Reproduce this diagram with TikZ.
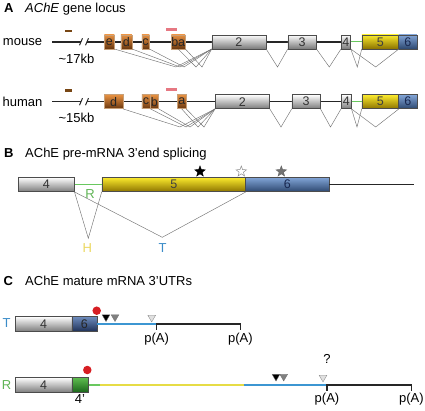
\documentclass[tikz,border=0pt]{standalone}
\usepackage{fontspec}
\setmainfont{Liberation Sans}
\usetikzlibrary{shapes.geometric}
\definecolor{orTop}{RGB}{232,145,65}
\definecolor{orBot}{RGB}{105,55,15}
\definecolor{orBrd}{RGB}{200,160,120}
\definecolor{yeTop}{RGB}{252,235,45}
\definecolor{yeBot}{RGB}{140,115,0}
\definecolor{blTop}{RGB}{130,165,215}
\definecolor{blBot}{RGB}{45,72,112}
\definecolor{dbTop}{RGB}{110,140,190}
\definecolor{dbBot}{RGB}{30,48,85}
\definecolor{grTop}{RGB}{95,190,80}
\definecolor{grBot}{RGB}{25,100,25}
\definecolor{navy}{RGB}{25,40,80}
\definecolor{lnGreen}{RGB}{105,200,95}
\definecolor{lnYellow}{RGB}{230,220,70}
\definecolor{lnBlue}{RGB}{60,150,210}
\definecolor{txBlue}{RGB}{60,140,200}
\definecolor{txGreen}{RGB}{95,180,85}
\definecolor{txYellow}{RGB}{235,215,95}
\definecolor{brMark}{RGB}{120,70,20}
\definecolor{pkMark}{RGB}{230,120,130}
\definecolor{redDot}{RGB}{215,30,35}
\begin{document}
\begin{tikzpicture}[x=1pt,y=-1pt,
  lbl/.style={font=\fontsize{13}{15}\selectfont, inner sep=0pt},
  ttl/.style={font=\fontsize{13}{15}\selectfont, inner sep=0pt, anchor=base west},
  ex/.style={draw=black!70, line width=0.5pt, minimum height=14pt, inner sep=0pt, anchor=west, font=\fontsize{12.5}{13}\selectfont},
  gex/.style={ex, top color=white, bottom color=black!52, text=black!80},
  oex/.style={ex, draw=orBrd, top color=orTop, bottom color=orBot, text=black!85},
  yex/.style={ex, top color=yeTop, bottom color=yeBot, text=black!75},
  bex/.style={ex, top color=blTop, bottom color=blBot, text=navy},
  dbex/.style={ex, top color=dbTop, bottom color=dbBot, text=black!85},
  gnex/.style={ex, top color=grTop, bottom color=grBot},
  spl/.style={draw=black!55, line width=0.45pt},
  mainln/.style={draw=black!85, line width=1.5pt},
  blk/.style={draw=black!85, line width=1.1pt},
  tri/.style={regular polygon, regular polygon sides=3, shape border rotate=180, minimum size=9pt, inner sep=0pt, draw=black!60, line width=0.3pt},
  strs/.style={star, star points=5, star point ratio=2.4, minimum size=11pt, inner sep=0pt, line width=0.5pt},
  dot/.style={circle, fill=redDot, minimum size=8.5pt, inner sep=0pt},
]
\useasboundingbox (0,0) rectangle (425,411);

% ---------------- A ----------------
\node[ttl] (Aletter) at (4,12.7) {\textbf{A}};
\node[ttl] (Atitle) at (25,12.7) {\textit{AChE} gene locus};

% mouse
\node[lbl] (mouse) at (22.5,42) {mouse};
\node[lbl] (m17) at (76.5,58.5) {\textasciitilde17kb};
\coordinate (mL) at (52,41.8);
\coordinate (mB1) at (81,41.8);
\coordinate (mB2) at (87,41.8);
\draw[brMark, line width=2.5pt] (65,31) -- (71.7,31);
\draw[pkMark, line width=3pt] (166,30) -- (177,30);
\draw[mainln] (mL) -- (mB1);
\draw[mainln, line width=1pt] ([xshift=-1.5pt,yshift=-3.5pt]mB1) -- ([xshift=1.5pt,yshift=3.5pt]mB1);
\draw[mainln, line width=1pt] ([xshift=-1.5pt,yshift=-3.5pt]mB2) -- ([xshift=1.5pt,yshift=3.5pt]mB2);
\draw[mainln] (mB2) -- (341,41.8);
\node[oex, minimum width=10pt] (me) at (104,41.8) {e};
\node[oex, minimum width=11pt] (md) at (120.7,41.8) {d};
\node[oex, minimum width=7.3pt] (mc) at (141.7,41.8) {c};
\node[oex, minimum width=13.3pt] (mba) at (171,41.8) {ba};
\node[gex, minimum width=54pt] (m2) at (211.7,41.8) {2};
\node[gex, minimum width=28.3pt] (m3) at (287.7,41.8) {3};
\node[gex, minimum width=9.3pt] (m4) at (341,41.8) {4};
\node[yex, minimum width=36.6pt] (m5) at (361.7,41.8) {5};
\node[bex, minimum width=18.4pt] (m6) at (398.3,41.8) {6};
\draw[lnGreen, line width=1.2pt] (m4.east) -- (m5.west);
\draw[spl] (me.south east) -- (176,67) -- (m2.south west);
\draw[spl] (md.south east) -- (180,67) -- (m2.south west);
\draw[spl] (mc.south east) -- (184,67) -- (m2.south west);
\draw[spl] (mba.south) -- (196,67) -- (m2.south west);
\draw[spl] (mba.south east) -- (202,67) -- (m2.south west);
\draw[spl] (m2.south east) -- (277.5,67) -- (m3.south west);
\draw[spl] (m3.south east) -- (329.3,67) -- (m4.south west);
\draw[spl] (m4.south east) -- (357.3,67) -- (m5.south west);
\draw[spl] (m4.south east) -- (375.7,67) -- (m5.south east);

% human
\node[lbl] (human) at (22.5,101.5) {human};
\node[lbl] (h15) at (76.5,118) {\textasciitilde15kb};
\coordinate (hL) at (52,101.7);
\coordinate (hB1) at (81,101.7);
\coordinate (hB2) at (87,101.7);
\draw[brMark, line width=2.5pt] (65,90.7) -- (71.7,90.7);
\draw[pkMark, line width=3pt] (166,90) -- (177,90);
\draw[mainln] (hL) -- (hB1);
\draw[mainln, line width=1pt] ([xshift=-1.5pt,yshift=-3.5pt]hB1) -- ([xshift=1.5pt,yshift=3.5pt]hB1);
\draw[mainln, line width=1pt] ([xshift=-1.5pt,yshift=-3.5pt]hB2) -- ([xshift=1.5pt,yshift=3.5pt]hB2);
\draw[mainln] (hB2) -- (341,101.7);
\node[oex, minimum width=18.7pt] (hd) at (104,101.7) {d};
\node[oex, minimum width=8.3pt] (hc) at (141.7,101.7) {c};
\node[oex, minimum width=8.3pt] (hb) at (150,101.7) {b};
\node[oex, minimum width=8.4pt] (ha) at (177.3,101.7) {a};
\node[gex, minimum width=54.3pt] (h2) at (215,101.7) {2};
\node[gex, minimum width=28.3pt] (h3) at (291.7,101.7) {3};
\node[gex, minimum width=10pt] (h4) at (341,101.7) {4};
\node[yex, minimum width=36.6pt] (h5) at (361.7,101.7) {5};
\node[bex, minimum width=18.4pt] (h6) at (398.3,101.7) {6};
\draw[lnGreen, line width=1.2pt] (h4.east) -- (h5.west);
\draw[spl] (hd.south east) -- (180,127) -- (h2.south west);
\draw[spl] (hc.south east) -- (186,127) -- (h2.south west);
\draw[spl] (hb.south east) -- (190,127) -- (h2.south west);
\draw[spl] (ha.south) -- (198,127) -- (h2.south west);
\draw[spl] (ha.south east) -- (204,127) -- (h2.south west);
\draw[spl] (h2.south east) -- (281,127) -- (h3.south west);
\draw[spl] (h3.south east) -- (330.5,127) -- (h4.south west);
\draw[spl] (h4.south east) -- (357,127) -- (h5.south west);
\draw[spl] (h4.south east) -- (375.7,127) -- (h5.south east);

% ---------------- B ----------------
\node[ttl] (Bletter) at (4,157.3) {\textbf{B}};
\node[ttl] (Btitle) at (25,157.3) {AChE pre-mRNA 3’end splicing};
\node[gex, minimum width=55.7pt, minimum height=14.4pt] (b4) at (18.3,184.5) {4};
\node[yex, minimum width=143.6pt, minimum height=14.4pt] (b5) at (101.7,184.5) {5};
\node[bex, minimum width=83.4pt, minimum height=14.4pt] (b6) at (245.3,184.5) {6};
\coordinate (bEnd) at (413.7,184.5);
\draw[blk] (b6.east) -- (bEnd);
\draw[lnGreen, line width=1.2pt] (b4.east) -- (b5.west);
\coordinate (hApex) at (88.3,238.3);
\coordinate (tApex) at (162.3,237.3);
\draw[spl] (b4.south east) -- (hApex) -- (b5.south west);
\draw[spl] (b4.south east) -- (tApex) -- (b5.south east);
\node[lbl, text=txGreen] (Rb) at (90,194) {R};
\node[lbl, text=txYellow] (Hb) at (87.3,248.3) {H};
\node[lbl, text=txBlue] (Tb) at (162.7,248.3) {T};
\node[strs, fill=black, draw=black] (s1) at (200,171.5) {};
\node[strs, fill=white, draw=black!45] (s2) at (241.3,171.5) {};
\node[strs, fill=black!55, draw=black!60] (s3) at (281.3,171.5) {};

% ---------------- C ----------------
\node[ttl] (Cletter) at (3.5,285.7) {\textbf{C}};
\node[ttl] (Ctitle) at (25,285.7) {AChE mature mRNA 3’UTRs};

% T transcript
\node[lbl, text=txBlue] (Tc) at (6.5,323.5) {T};
\node[gex, minimum width=56.7pt, minimum height=15pt] (cT4) at (15,324) {4};
\node[dbex, minimum width=25pt, minimum height=15pt] (cT6) at (71.7,324) {6};
\coordinate (tpA1) at (156.7,324);
\coordinate (tpA2) at (240.3,324);
\draw[lnBlue, line width=1.1pt] (cT6.east) -- (tpA1);
\draw[blk] ([yshift=-5.5pt]tpA1) -- (tpA1) -- (tpA2) -- ([yshift=-5.5pt]tpA2);
\node[lbl] (tpAl1) at (156.7,339) {p(A)};
\node[lbl] (tpAl2) at (240.3,339) {p(A)};
\node[dot] (rT) at (96.7,310.7) {};
\node[tri, fill=black] (tT1) at (106,317) {};
\node[tri, fill=black!50] (tT2) at (115,317) {};
\node[tri, fill=black!12, draw=black!50] (tT3) at (151.7,317.5) {};

% R transcript
\node[lbl, text=txGreen] (Rc) at (6.5,385) {R};
\node[gex, minimum width=56.7pt, minimum height=15pt] (cR4) at (15,385) {4};
\node[gnex, minimum width=16.6pt, minimum height=15pt] (cR4p) at (71.7,385) {};
\node[lbl] (r4p) at (80,399) {4’};
\coordinate (rG) at (100,385);
\coordinate (rY) at (243.7,385);
\coordinate (rpA1) at (327,385);
\coordinate (rpA2) at (411.3,385);
\draw[lnGreen, line width=1.1pt] (cR4p.east) -- (rG);
\draw[lnYellow, line width=1.1pt] (rG) -- (rY);
\draw[lnBlue, line width=1.1pt] (rY) -- (rpA1);
\draw[blk] ([yshift=-5.5pt]rpA1) -- (rpA1) -- (rpA2) -- ([yshift=-5.5pt]rpA2);
\node[lbl] (rpAl1) at (327,399.5) {p(A)};
\node[lbl] (rpAl2) at (411.3,399.5) {p(A)};
\node[lbl] (q) at (327,358.5) {?};
\node[dot] (rR) at (87.3,370) {};
\node[tri, fill=black] (tR1) at (276,376.5) {};
\node[tri, fill=black!50] (tR2) at (283.7,376.5) {};
\node[tri, fill=black!12, draw=black!50] (tR3) at (323,377.5) {};
\end{tikzpicture}
\end{document}
